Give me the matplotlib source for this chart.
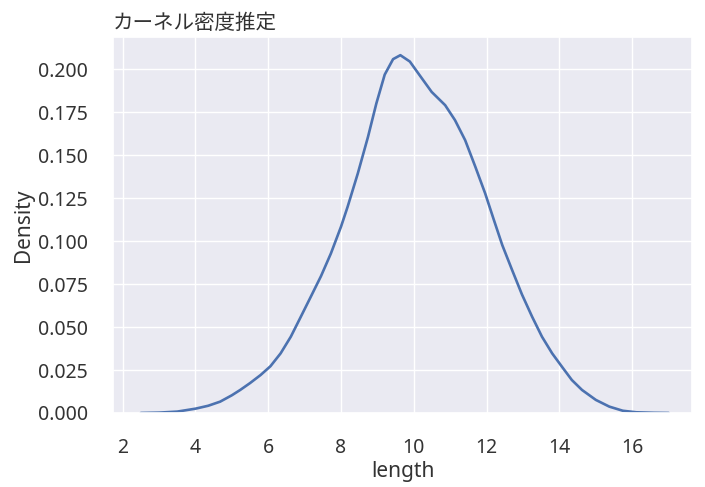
import matplotlib
matplotlib.use("Agg")
import matplotlib.pyplot as plt
import seaborn as sns

# KDE curve
length = [2.5, 3.0, 3.5, 4.0, 4.35, 4.68, 5.0, 5.23, 5.5, 5.79, 6.06, 6.34, 6.62,
          6.89, 7.17, 7.45, 7.72, 8.0, 8.18, 8.46, 8.74, 8.97, 9.2, 9.43, 9.63,
          9.89, 10.16, 10.49, 10.86, 11.13, 11.41, 11.69, 11.96, 12.2, 12.43,
          12.7, 12.97, 13.25, 13.52, 13.8, 14.08, 14.34, 14.62, 15.0, 15.37,
          15.74, 16.11, 16.6, 17.0]
density = [0.0, 0.0002, 0.0008, 0.0025, 0.0042, 0.0066, 0.0103, 0.0134, 0.0174,
           0.0221, 0.0272, 0.0347, 0.0444, 0.0558, 0.0677, 0.0797, 0.0928, 0.1085,
           0.1200, 0.1394, 0.1607, 0.1802, 0.1970, 0.2060, 0.2083, 0.2046, 0.1966,
           0.1869, 0.1792, 0.1705, 0.1588, 0.1433, 0.1278, 0.1123, 0.0977, 0.0832,
           0.0690, 0.0560, 0.0444, 0.0347, 0.0266, 0.0192, 0.0134, 0.0076, 0.0037,
           0.0013, 0.0004, 0.0001, 0.0]
xticks = [2, 4, 6, 8, 10, 12, 14, 16]
yticks = [0.0, 0.025, 0.05, 0.075, 0.1, 0.125, 0.15, 0.175, 0.2]

sns.set_theme(style="darkgrid")
plt.rcParams['font.family'] = ['Noto Sans', 'Noto Sans CJK JP', 'DejaVu Sans']

fig = plt.figure(figsize=(7.05, 4.87), dpi=100)
ax = fig.add_axes([0.160, 0.152, 0.822, 0.771])
ax.plot(length, density, color="#4c72b0", lw=1.9, solid_joinstyle="round")

ax.set_xlim(1.73, 17.65)
ax.set_ylim(0, 0.2186)
ax.set_xticks(xticks)
ax.set_yticks(yticks)
ax.set_xticklabels([str(t) for t in xticks], fontsize=14)
ax.set_yticklabels(["%.3f" % t for t in yticks], fontsize=14)
ax.tick_params(axis="both", pad=12, colors="#333333")
ax.set_xlabel("length", fontsize=15, labelpad=2, color="#333333")
ax.set_ylabel("Density", fontsize=15, labelpad=3, color="#333333")
ax.set_title("カーネル密度推定", loc="left", fontsize=14.8, pad=6, color="#333333")

fig.savefig("out.png", dpi=100)
